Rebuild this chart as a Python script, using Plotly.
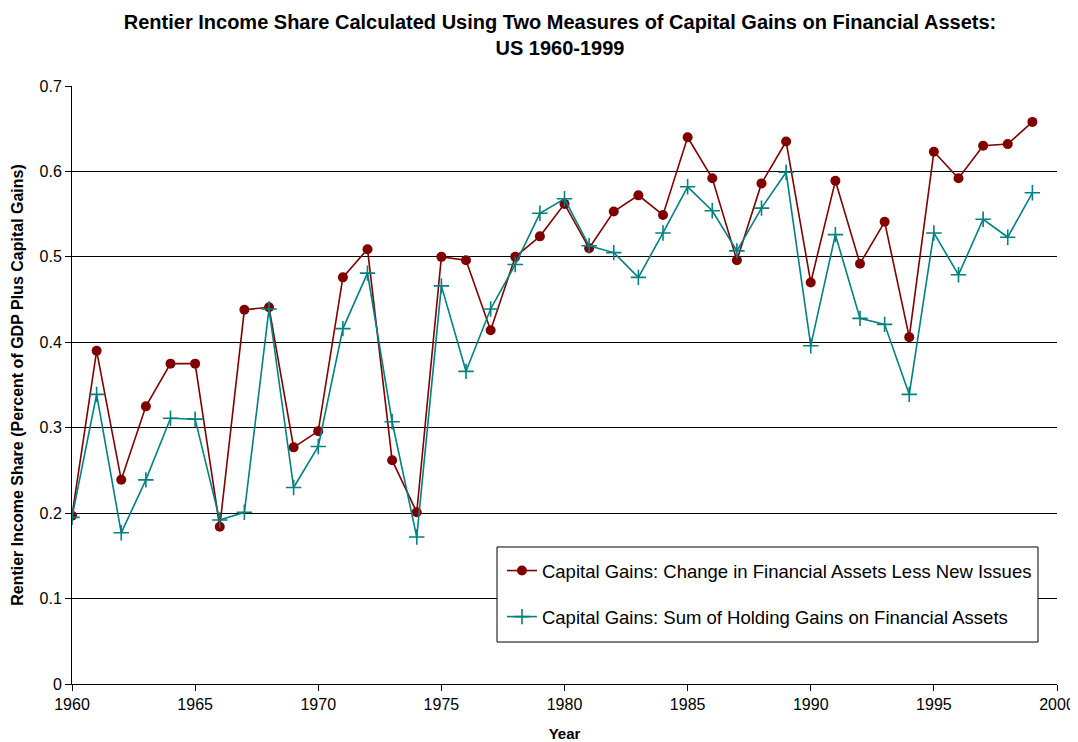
import plotly.graph_objects as go

years = list(range(1960, 2000))

change_fin_assets = [
    0.197, 0.390, 0.239, 0.325, 0.375, 0.375, 0.184, 0.438, 0.441, 0.277,
    0.296, 0.476, 0.509, 0.262, 0.201, 0.500, 0.496, 0.414, 0.500, 0.524,
    0.562, 0.510, 0.553, 0.572, 0.549, 0.640, 0.592, 0.496, 0.586, 0.635,
    0.470, 0.589, 0.492, 0.541, 0.406, 0.623, 0.592, 0.630, 0.632, 0.658,
]

holding_gains = [
    0.195, 0.339, 0.177, 0.239, 0.311, 0.310, 0.192, 0.201, 0.439, 0.230,
    0.278, 0.416, 0.481, 0.307, 0.172, 0.466, 0.366, 0.439, 0.491, 0.551,
    0.568, 0.513, 0.505, 0.476, 0.528, 0.582, 0.554, 0.507, 0.557, 0.599,
    0.396, 0.526, 0.428, 0.421, 0.339, 0.528, 0.479, 0.544, 0.523, 0.575,
]

names = [
    "Capital Gains: Change in Financial Assets Less New Issues",
    "Capital Gains: Sum of Holding Gains on Financial Assets",
]

RED = "#800000"
TEAL = "#008080"
FONT = "Liberation Sans, Arial, sans-serif"

fig = go.Figure()
fig.add_trace(go.Scatter(
    x=years, y=change_fin_assets, name=names[0], mode="lines+markers",
    line=dict(color=RED, width=1.6),
    marker=dict(symbol="circle", size=10, color=RED),
    legendgroup="a",
))
fig.add_trace(go.Scatter(
    x=years, y=holding_gains, name=names[1], mode="lines+markers",
    line=dict(color=TEAL, width=1.6),
    marker=dict(symbol="cross-thin", size=11, color=TEAL,
                line=dict(color=TEAL, width=1.6)),
    legendgroup="b",
))

# legend frame
fig.add_shape(
    type="rect", xref="paper", yref="paper",
    x0=0.4315, x1=0.9807, y0=0.0702, y1=0.2291,
    line=dict(color="black", width=1), fillcolor="white", layer="above",
)

fig.update_layout(
    width=1070, height=734,
    margin=dict(l=64, r=21, t=78, b=58, autoexpand=False),
    paper_bgcolor="white", plot_bgcolor="white",
    font=dict(family=FONT, color="black", size=16),
    title=dict(
        text="<b>Rentier Income Share Calculated Using Two Measures of Capital Gains on Financial Assets:<br>US 1960-1999</b>",
        x=552 / 1070, xanchor="center", y=0.971, yanchor="top",
        font=dict(family=FONT, size=20, color="black"),
    ),
    showlegend=True,
    legend=dict(
        x=0.4365, y=0.2207, xanchor="left", yanchor="top",
        bgcolor="rgba(0,0,0,0)", borderwidth=0,
        font=dict(family=FONT, size=18.5, color="black"),
        tracegroupgap=19,
        traceorder="grouped",
    ),
    xaxis=dict(
        range=[1960, 2000], tickmode="linear", tick0=1960, dtick=5,
        showgrid=False, zeroline=False, automargin=False,
        showline=True, linecolor="black", linewidth=1,
        ticks="outside", ticklen=6, tickcolor="black",
        tickfont=dict(family=FONT, size=16),
        title=dict(text="<b>Year</b>", font=dict(family=FONT, size=15), standoff=17),
    ),
    yaxis=dict(
        range=[0, 0.7], tickmode="linear", tick0=0, dtick=0.1,
        showgrid=True, gridcolor="black", gridwidth=1,
        zeroline=False, automargin=False,
        showline=True, linecolor="black", linewidth=1,
        ticks="outside", ticklen=6, tickcolor="black",
        tickfont=dict(family=FONT, size=16),
        title=dict(text="<b>Rentier Income Share (Percent of GDP Plus Capital Gains)</b>",
                   font=dict(family=FONT, size=16), standoff=11),
    ),
)

fig.write_html("out.html")
